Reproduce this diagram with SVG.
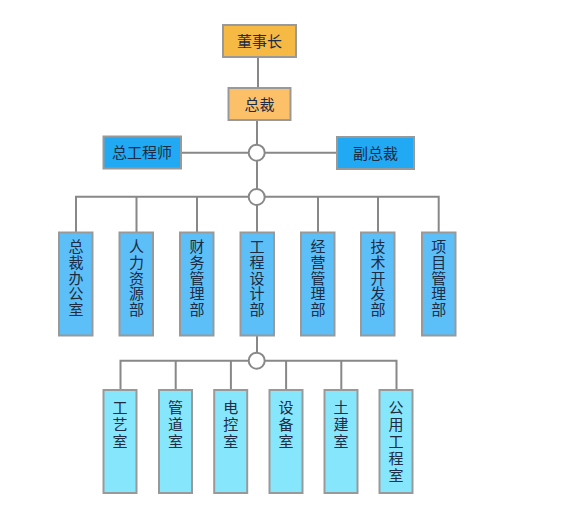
<svg xmlns="http://www.w3.org/2000/svg" width="564" height="515" viewBox="0 0 564 515">
<style>
.box{stroke:#999;stroke-width:2}
.t{font-family:"Noto Sans CJK SC","Noto Sans",sans-serif;font-size:15px;fill:#1c2c44;text-anchor:middle}
.v{font-family:"Noto Sans CJK SC","Noto Sans",sans-serif;font-size:15px;fill:#1c2c44;writing-mode:vertical-rl;text-orientation:upright;letter-spacing:0.7px}
.v2{letter-spacing:2px}
.ln{stroke:#888;stroke-width:2;fill:none}
.c{fill:#fff;stroke:#888;stroke-width:2}
.gold{fill:#f6b944}
.orange{fill:#fcc068}
.blue{fill:#21a9f4}
.mid{fill:#5dbff8}
.low{fill:#86e6fb}
</style>
<rect width="564" height="515" fill="#fff"/>
<g id="connectors">
<path class="ln" d="M258 57V88M257 120V153M181 152.7H337M257 153V197M76 232V196.7H438.7V232M136.5 196.7V232M197 196.7V232M318 196.7V232M378 196.7V232M257 197V232M257 336V360.7M120.5 390V360.7H396.5V390M175.7 360.7V390M230.9 360.7V390M286.1 360.7V390M341.3 360.7V390"/>
<circle class="c" cx="256.7" cy="152.7" r="8"/>
<circle class="c" cx="256.7" cy="197" r="8"/>
<circle class="c" cx="256.7" cy="360.7" r="8"/>
</g>
<g id="n-dongshizhang"><rect class="box gold" x="223" y="25" width="73" height="32"/><text class="t" x="259.5" y="46.5">董事长</text></g>
<g id="n-zongcai"><rect class="box orange" x="228.5" y="88" width="62" height="32"/><text class="t" x="259.5" y="109.5">总裁</text></g>
<g id="n-zonggongchengshi"><rect class="box blue" x="103.5" y="136.5" width="77.5" height="32"/><text class="t" x="142" y="158">总工程师</text></g>
<g id="n-fuzongcai"><rect class="box blue" x="337" y="137" width="77" height="32"/><text class="t" x="375.5" y="158.5">副总裁</text></g>
<g id="n-zcbgs"><rect class="box mid" x="59" y="232.5" width="33.5" height="103"/><text class="v" x="76" y="239">总裁办公室</text></g>
<g id="n-rlzyb"><rect class="box mid" x="119.5" y="232.5" width="33.5" height="103"/><text class="v" x="136.5" y="239">人力资源部</text></g>
<g id="n-cwglb"><rect class="box mid" x="180" y="232.5" width="33.5" height="103"/><text class="v" x="197" y="239">财务管理部</text></g>
<g id="n-gcsjb"><rect class="box mid" x="240.5" y="232.5" width="33.5" height="103"/><text class="v" x="257" y="239">工程设计部</text></g>
<g id="n-jyglb"><rect class="box mid" x="301" y="232.5" width="33.5" height="103"/><text class="v" x="318" y="239">经营管理部</text></g>
<g id="n-jskfb"><rect class="box mid" x="361" y="232.5" width="33.5" height="103"/><text class="v" x="378" y="239">技术开发部</text></g>
<g id="n-xmglb"><rect class="box mid" x="422" y="232.5" width="33.5" height="103"/><text class="v" x="438.7" y="239">项目管理部</text></g>
<g id="n-gys"><rect class="box low" x="103.5" y="390" width="33" height="103"/><text class="v v2" x="120" y="400">工艺室</text></g>
<g id="n-gds"><rect class="box low" x="159" y="390" width="33" height="103"/><text class="v v2" x="175.5" y="400">管道室</text></g>
<g id="n-dks"><rect class="box low" x="214.2" y="390" width="33" height="103"/><text class="v v2" x="230.7" y="400">电控室</text></g>
<g id="n-sbs"><rect class="box low" x="269.5" y="390" width="33" height="103"/><text class="v v2" x="286" y="400">设备室</text></g>
<g id="n-tjs"><rect class="box low" x="324.5" y="390" width="33" height="103"/><text class="v v2" x="341" y="400">土建室</text></g>
<g id="n-gygcs"><rect class="box low" x="379.5" y="390" width="33" height="103"/><text class="v v2" x="396" y="400">公用工程室</text></g>
</svg>
